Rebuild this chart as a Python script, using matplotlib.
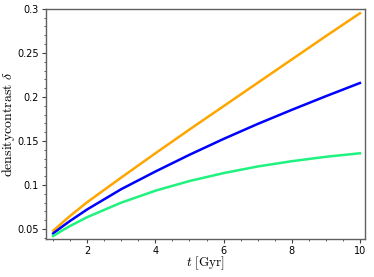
import matplotlib
matplotlib.use("Agg")
import matplotlib.pyplot as plt
from matplotlib.ticker import MultipleLocator

matplotlib.rcParams['mathtext.fontset'] = 'cm'

# time in Gyr
t = [1.0, 1.25, 1.5, 2, 3, 4, 5, 6, 7, 8, 9, 10]

# density contrast for the three models
delta_orange = [0.048, 0.0565, 0.065, 0.0805, 0.1085, 0.136, 0.163, 0.1895, 0.216, 0.2425, 0.269, 0.295]
delta_blue = [0.045, 0.0523, 0.0593, 0.0723, 0.0953, 0.1153, 0.1343, 0.1523, 0.1693, 0.1853, 0.2008, 0.2158]
delta_green = [0.042, 0.048, 0.0535, 0.0635, 0.080, 0.0935, 0.1045, 0.1135, 0.121, 0.127, 0.132, 0.136]

fig = plt.figure(figsize=(3.74, 2.77), dpi=100)
ax = fig.add_axes([0.123, 0.137, 0.853, 0.831])

ax.plot(t, delta_orange, color='#ffa500', lw=1.8)
ax.plot(t, delta_blue, color='#0000ff', lw=1.8)
ax.plot(t, delta_green, color='#1ff27f', lw=1.8)

ax.set_xlim(0.79, 10.15)
ax.set_ylim(0.0386, 0.3)

ax.xaxis.set_major_locator(MultipleLocator(2))
ax.xaxis.set_minor_locator(MultipleLocator(0.5))
ax.yaxis.set_minor_locator(MultipleLocator(0.01))
ax.set_yticks([0.05, 0.1, 0.15, 0.2, 0.25, 0.3])
ax.set_yticklabels(['0.05', '0.1', '0.15', '0.2', '0.25', '0.3'])

for s in ax.spines.values():
    s.set_color('#606060')
    s.set_linewidth(1.0)
ax.tick_params(which='major', direction='out', length=3, width=0.8, labelsize=7, colors='#404040', labelcolor='black', pad=2)
ax.tick_params(which='minor', direction='out', length=1.5, width=0.6, colors='#404040')

ax.set_xlabel(r'$t\ [\mathrm{Gyr}]$', fontsize=9.5)
ax.set_ylabel(r'$\mathrm{densitycontrast}\ \delta$', fontsize=10)
ax.xaxis.set_label_coords(0.5, -0.068)
ax.yaxis.set_label_coords(-0.09, 0.5)

fig.savefig('out.png', dpi=100)
